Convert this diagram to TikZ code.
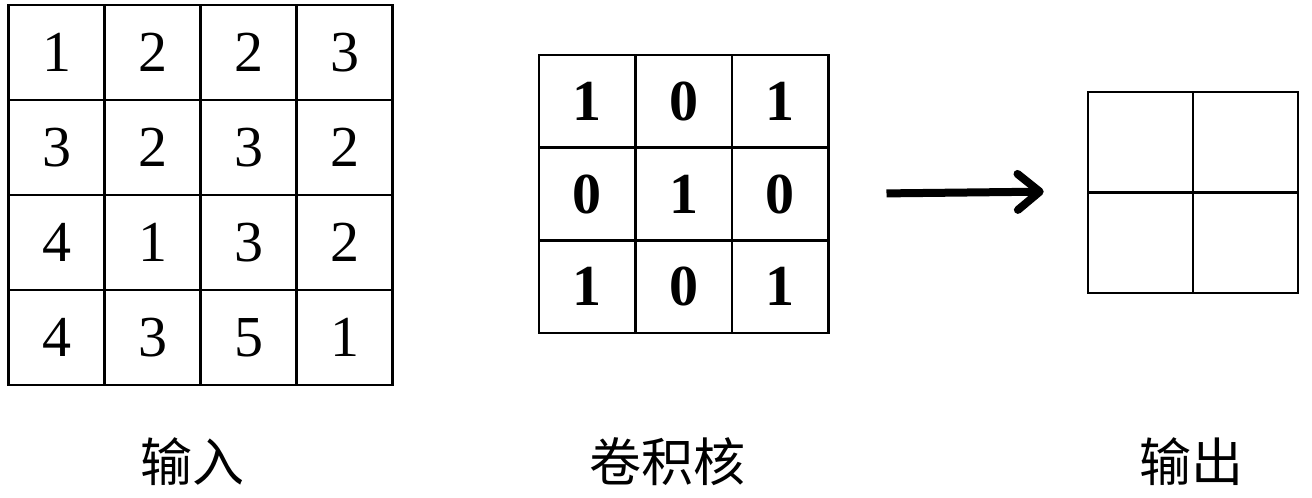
\documentclass[tikz,border=0pt]{standalone}
\usepackage{fontspec}
\setmainfont{Liberation Serif}
\newfontfamily\cjk{Noto Sans CJK SC}
\usepackage{tikz}
\usetikzlibrary{arrows.meta, positioning}
\tikzset{
  incell/.style={draw, line width=1.3pt, inner sep=0pt, minimum width=48pt, minimum height=47.5pt, font=\fontsize{29}{29}\selectfont},
  kercell/.style={incell, minimum width=48.2pt, minimum height=46.4pt, font=\bfseries\fontsize{29}{29}\selectfont},
  outcell/.style={incell, minimum width=52.5pt, minimum height=50.3pt},
  caption/.style={font=\cjk\fontsize{26}{26}\selectfont},
  convarrow/.style={line width=4pt, -{Straight Barb[length=11pt, width=18pt, line cap=round, line join=round]}}
}
\begin{document}
\begin{tikzpicture}[x=0.5pt, y=-0.5pt]
    \useasboundingbox (0,0) rectangle (1312,498);

    % Input 4x4
    \foreach \line [count=\r] in {{1,2,2,3},{3,2,3,2},{4,1,3,2},{4,3,5,1}}
      \foreach \v [count=\c] in \line
        \node[incell] (in-\r-\c) at ({8.7+96*(\c-0.5)},{5+95*(\r-0.5)}) {\v};

    % Kernel 3x3
    \foreach \line [count=\r] in {{1,0,1},{0,1,0},{1,0,1}}
      \foreach \v [count=\c] in \line
        \node[kercell] (ker-\r-\c) at ({539+96.4*(\c-0.5)},{55+92.7*(\r-0.5)}) {\v};

    % Output 2x2
    \foreach \r in {1,2}
      \foreach \c in {1,2}
        \node[outcell] (out-\r-\c) at ({1088+105*(\c-0.5)},{92+100.5*(\r-0.5)}) {};

    % Arrow
    \draw[convarrow, shorten <=28.5pt, shorten >=21.5pt] (ker-2-3.east) -- (out-2-1.north west);

    % Captions
    \node[caption] (cap-in) at (192,462) {输入};
    \node[caption] (cap-ker) at (667,462) {卷积核};
    \node[caption] (cap-out) at (1191,462) {输出};

\end{tikzpicture}
\end{document}
